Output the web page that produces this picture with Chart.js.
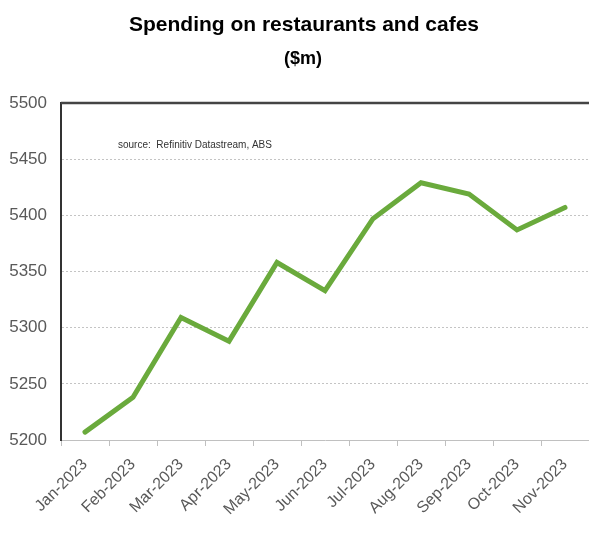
<!DOCTYPE html>
<html>
<head>
<meta charset="utf-8">
<title>Spending on restaurants and cafes</title>
<script src="https://cdn.jsdelivr.net/npm/chart.js@4/dist/chart.umd.min.js"></script>
<style>
    html, body { margin: 0; padding: 0; background: #fff; }
    #wrap { width: 589px; height: 535px; position: relative; }
</style>
</head>
<body>
<div id="wrap"><canvas id="spendChart"></canvas></div>
<script>
// Monthly spending on restaurants and cafes, $m
const months = ['Jan-2023', 'Feb-2023', 'Mar-2023', 'Apr-2023', 'May-2023', 'Jun-2023',
    'Jul-2023', 'Aug-2023', 'Sep-2023', 'Oct-2023', 'Nov-2023'];
const spending = [5207, 5238, 5309, 5288, 5358, 5333, 5397, 5429, 5419, 5387, 5407];
const yTicks = [5200, 5250, 5300, 5350, 5400, 5450, 5500];

const FONT = "'Liberation Sans', Arial, sans-serif";

// Title, unit line, top frame line and source note drawn straight onto the canvas
const headerPlugin = {
    id: 'header',
    afterDraw(chart) {
        const ctx = chart.ctx;
        const area = chart.chartArea;
        const yTop = chart.scales.y.getPixelForValue(yTicks[yTicks.length - 1]);
        ctx.save();
        ctx.strokeStyle = '#444';
        ctx.lineWidth = 2.5;
        ctx.beginPath();
        ctx.moveTo(area.left, yTop);
        ctx.lineTo(area.right, yTop);
        ctx.stroke();

        ctx.fillStyle = '#000';
        ctx.textAlign = 'center';
        ctx.textBaseline = 'alphabetic';
        ctx.font = 'bold 21px ' + FONT;
        ctx.fillText('Spending on restaurants and cafes', 304, 31);
        ctx.font = 'bold 18px ' + FONT;
        ctx.fillText('($m)', 303, 64);

        ctx.fillStyle = '#333';
        ctx.textAlign = 'left';
        ctx.textBaseline = 'middle';
        ctx.font = '10px ' + FONT;
        ctx.fillText('source:  Refinitiv Datastream, ABS', 118, 145);
        ctx.restore();
    }
};

const chart = new Chart(document.getElementById('spendChart'), {
    type: 'line',
    data: {
        labels: months,
        datasets: [{
            data: spending,
            borderColor: '#6aaa3c',
            borderWidth: 5,
            pointRadius: 0,
            tension: 0,
            borderCapStyle: 'round',
            borderJoinStyle: 'miter'
        }]
    },
    options: {
        responsive: true,
        maintainAspectRatio: false,
        animation: false,
        layout: {
            padding: { top: 103, right: 0, left: 0, bottom: 0 }
        },
        plugins: {
            legend: { display: false },
            tooltip: { enabled: false }
        },
        scales: {
            x: {
                offset: true,
                grid: {
                    offset: true,
                    drawOnChartArea: false,
                    drawTicks: true,
                    tickLength: 6,
                    color: '#c0c0c0'
                },
                border: { color: '#c0c0c0', dash: [2, 1] },
                ticks: {
                    color: '#595959',
                    font: { family: FONT, size: 16 },
                    maxRotation: 45,
                    minRotation: 45,
                    padding: 9,
                    autoSkip: false
                },
                afterFit(scale) { scale.height = 95; }
            },
            y: {
                min: 5200,
                max: 5500,
                afterBuildTicks(scale) {
                    scale.ticks = yTicks.map(v => ({ value: v }));
                },
                grid: {
                    drawTicks: false,
                    color: '#c4c4c4'
                },
                border: { color: '#333', width: 2, dash: [2, 2] },
                ticks: {
                    color: '#595959',
                    font: { family: FONT, size: 17 },
                    padding: 14,
                    callback: v => String(v)
                },
                afterFit(scale) { scale.width = 61; }
            }
        }
    },
    plugins: [headerPlugin]
});
</script>
</body>
</html>
